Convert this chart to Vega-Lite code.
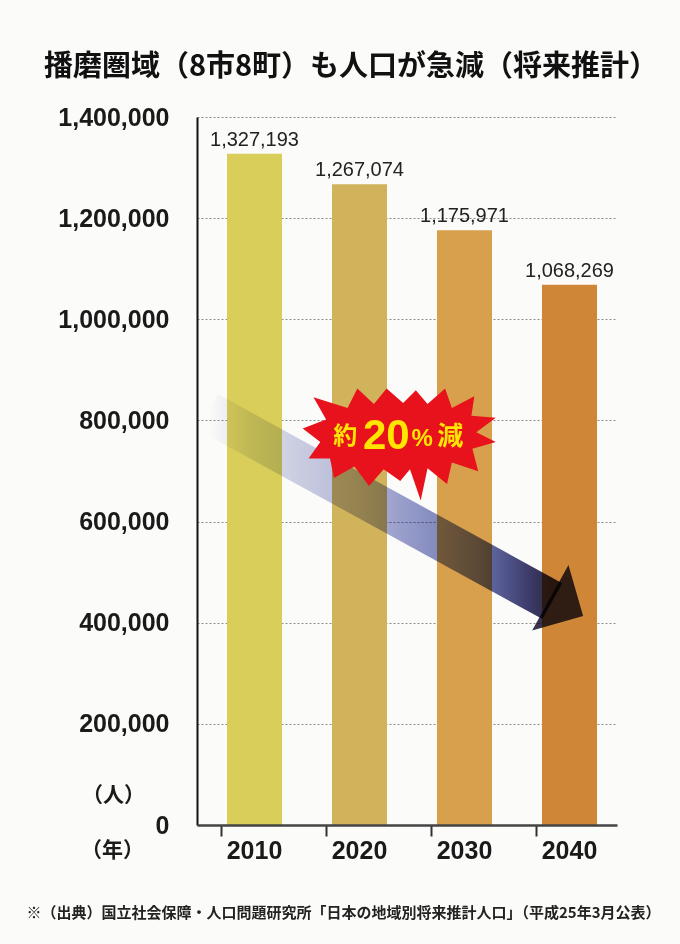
{
  "$schema": "https://vega.github.io/schema/vega-lite/v6.json",
  "width": 420,
  "height": 708,
  "autosize": {"type": "none"},
  "padding": {"left": 197, "top": 117, "right": 63, "bottom": 119},
  "background": "#fbfbf9",
  "config": {"view": {"stroke": null}},
  "title": {
    "text": "播磨圏域（8市8町）も人口が急減（将来推計）",
    "font": "Noto Sans CJK JP",
    "fontSize": 29,
    "fontWeight": "bold",
    "color": "#111111",
    "anchor": "middle",
    "frame": "group",
    "dx": -56,
    "offset": 23
  },
  "datasets": {
    "pop": [
      {"year": "2010", "population": 1327193},
      {"year": "2020", "population": 1267074},
      {"year": "2030", "population": 1175971},
      {"year": "2040", "population": 1068269}
    ],
    "arrow": [
      {"idx": 0.108, "population": 816300},
      {"idx": 3.384, "population": 442700}
    ],
    "head": [{"idx": 3.521, "population": 431300}],
    "burst": [{"idx": 1.917, "population": 766900}]
  },
  "encoding": {
    "y": {
      "field": "population",
      "type": "quantitative",
      "title": "（人）",
      "scale": {"domain": [0, 1400000], "nice": false},
      "axis": {
        "values": [0, 200000, 400000, 600000, 800000, 1000000, 1200000, 1400000],
        "labelExpr": "format(datum.value, ',')",
        "zindex": 0,
        "domainColor": "#111111",
        "domainWidth": 2,
        "ticks": false,
        "labelPadding": 28,
        "labelFont": "Liberation Sans",
        "labelFontSize": 25,
        "labelFontWeight": "bold",
        "labelColor": "#1a1a1a",
        "grid": true,
        "gridDash": [2, 2],
        "gridColor": "#8c8c8c",
        "gridWidth": 1.2,
        "titleFont": "Noto Sans CJK JP",
        "titleFontSize": 21,
        "titleFontWeight": "bold",
        "titleColor": "#1a1a1a",
        "titleAngle": 0,
        "titleAlign": "center",
        "titleBaseline": "middle",
        "titleX": -84,
        "titleY": 678
      }
    }
  },
  "layer": [
    {
      "data": {"name": "pop"},
      "encoding": {
        "x": {
          "field": "year",
          "type": "nominal",
          "sort": null,
          "scale": {"paddingInner": 0.476, "paddingOuter": 0.238},
          "axis": {
            "orient": "bottom",
            "bandPosition": 0,
            "zindex": 1,
            "tickSize": 11,
            "tickWidth": 2,
            "tickColor": "#333333",
            "domainColor": "#444444",
            "domainWidth": 2.5,
            "labelFont": "Liberation Sans",
            "labelFontSize": 25,
            "labelFontWeight": "bold",
            "labelColor": "#1a1a1a",
            "labelPadding": 2,
            "labelOffset": 5,
            "labelAngle": 0,
            "title": "（年）",
            "titleFont": "Noto Sans CJK JP",
            "titleFontSize": 21,
            "titleFontWeight": "bold",
            "titleColor": "#1a1a1a",
            "titleAngle": 0,
            "titleAlign": "center",
            "titleBaseline": "middle",
            "titleX": -85,
            "titleY": 25
          }
        }
      },
      "layer": [
        {
          "mark": {"type": "bar", "xOffset": 5},
          "encoding": {
            "color": {
              "field": "year",
              "type": "nominal",
              "scale": {
                "domain": ["2010", "2020", "2030", "2040"],
                "range": ["#d9ce5a", "#d1b35c", "#d89f4c", "#cf8737"]
              },
              "legend": null
            }
          }
        },
        {
          "mark": {
            "type": "text",
            "baseline": "bottom",
            "dx": 5,
            "dy": -4,
            "font": "Liberation Sans",
            "fontSize": 20,
            "color": "#222222"
          },
          "encoding": {
            "text": {"field": "population", "type": "quantitative", "format": ","}
          }
        }
      ]
    },
    {
      "encoding": {
        "x": {
          "field": "idx",
          "type": "quantitative",
          "scale": {"domain": [0, 4], "nice": false, "zero": false},
          "axis": {
            "orient": "bottom",
            "domain": false,
            "ticks": false,
            "labels": false,
            "grid": false,
            "title": "※（出典）国立社会保障・人口問題研究所「日本の地域別将来推計人口」（平成25年3月公表）",
            "titleFont": "Noto Sans CJK JP",
            "titleFontSize": 15,
            "titleFontWeight": "bold",
            "titleColor": "#222222",
            "titleAngle": 0,
            "titleAlign": "center",
            "titleBaseline": "middle",
            "titleX": 146,
            "titleY": 87
          }
        }
      },
      "layer": [
        {
          "data": {"name": "arrow"},
          "mark": {
            "type": "line",
            "strokeWidth": 41,
            "strokeCap": "butt",
            "blend": "multiply",
            "stroke": {
              "gradient": "linear",
              "x1": 0, "y1": 0, "x2": 1, "y2": 0,
              "stops": [
                {"offset": 0, "color": "#ffffff"},
                {"offset": 0.12, "color": "#e2e4ee"},
                {"offset": 0.45, "color": "#b3b7dc"},
                {"offset": 0.78, "color": "#6c76b6"},
                {"offset": 0.93, "color": "#3e3d6e"},
                {"offset": 1, "color": "#2e2842"}
              ]
            }
          },
          "encoding": {"order": {"field": "idx", "type": "quantitative"}}
        },
        {
          "data": {"name": "head"},
          "mark": {
            "type": "point",
            "shape": "M -0.5 -1 L 0.5 0 L -0.5 1 Z",
            "size": 5625,
            "angle": 29,
            "filled": true,
            "fill": "#3a3452",
            "opacity": 1,
            "strokeWidth": 0,
            "blend": "multiply"
          }
        },
        {
          "data": {"name": "burst"},
          "mark": {
            "type": "point",
            "shape": "M -0.98 -0.09 L -0.80 0.05 L -0.92 0.22 L -0.70 0.22 L -0.66 0.42 L -0.45 0.30 L -0.30 0.50 L -0.15 0.33 L 0.02 0.45 L 0.12 0.33 L 0.23 0.65 L 0.30 0.32 L 0.50 0.48 L 0.55 0.26 L 0.82 0.35 L 0.76 0.12 L 1.0 0.05 L 0.80 -0.05 L 1.0 -0.20 L 0.75 -0.22 L 0.78 -0.42 L 0.55 -0.30 L 0.48 -0.50 L 0.30 -0.34 L 0.18 -0.48 L 0.05 -0.35 L -0.12 -0.50 L -0.25 -0.34 L -0.42 -0.50 L -0.52 -0.30 L -0.87 -0.41 L -0.74 -0.18 Z",
            "size": 38025,
            "filled": true,
            "fill": "#e8121d",
            "opacity": 1,
            "strokeWidth": 0
          }
        },
        {
          "data": {"name": "burst"},
          "mark": {"type": "text", "text": "約", "dx": -53, "dy": 0, "baseline": "middle", "align": "center", "font": "Noto Sans CJK JP", "fontWeight": "bold", "fontSize": 24, "color": "#ffe600"}
        },
        {
          "data": {"name": "burst"},
          "mark": {"type": "text", "text": "20", "dx": -12, "dy": -1, "baseline": "middle", "align": "center", "font": "Liberation Sans", "fontWeight": "bold", "fontSize": 42, "color": "#ffe600"}
        },
        {
          "data": {"name": "burst"},
          "mark": {"type": "text", "text": "%", "dx": 24, "dy": 2, "baseline": "middle", "align": "center", "font": "Liberation Sans", "fontWeight": "bold", "fontSize": 24, "color": "#ffe600"}
        },
        {
          "data": {"name": "burst"},
          "mark": {"type": "text", "text": "減", "dx": 52, "dy": 0, "baseline": "middle", "align": "center", "font": "Noto Sans CJK JP", "fontWeight": "bold", "fontSize": 26, "color": "#ffe600"}
        }
      ]
    }
  ],
  "resolve": {"scale": {"x": "independent"}}
}
